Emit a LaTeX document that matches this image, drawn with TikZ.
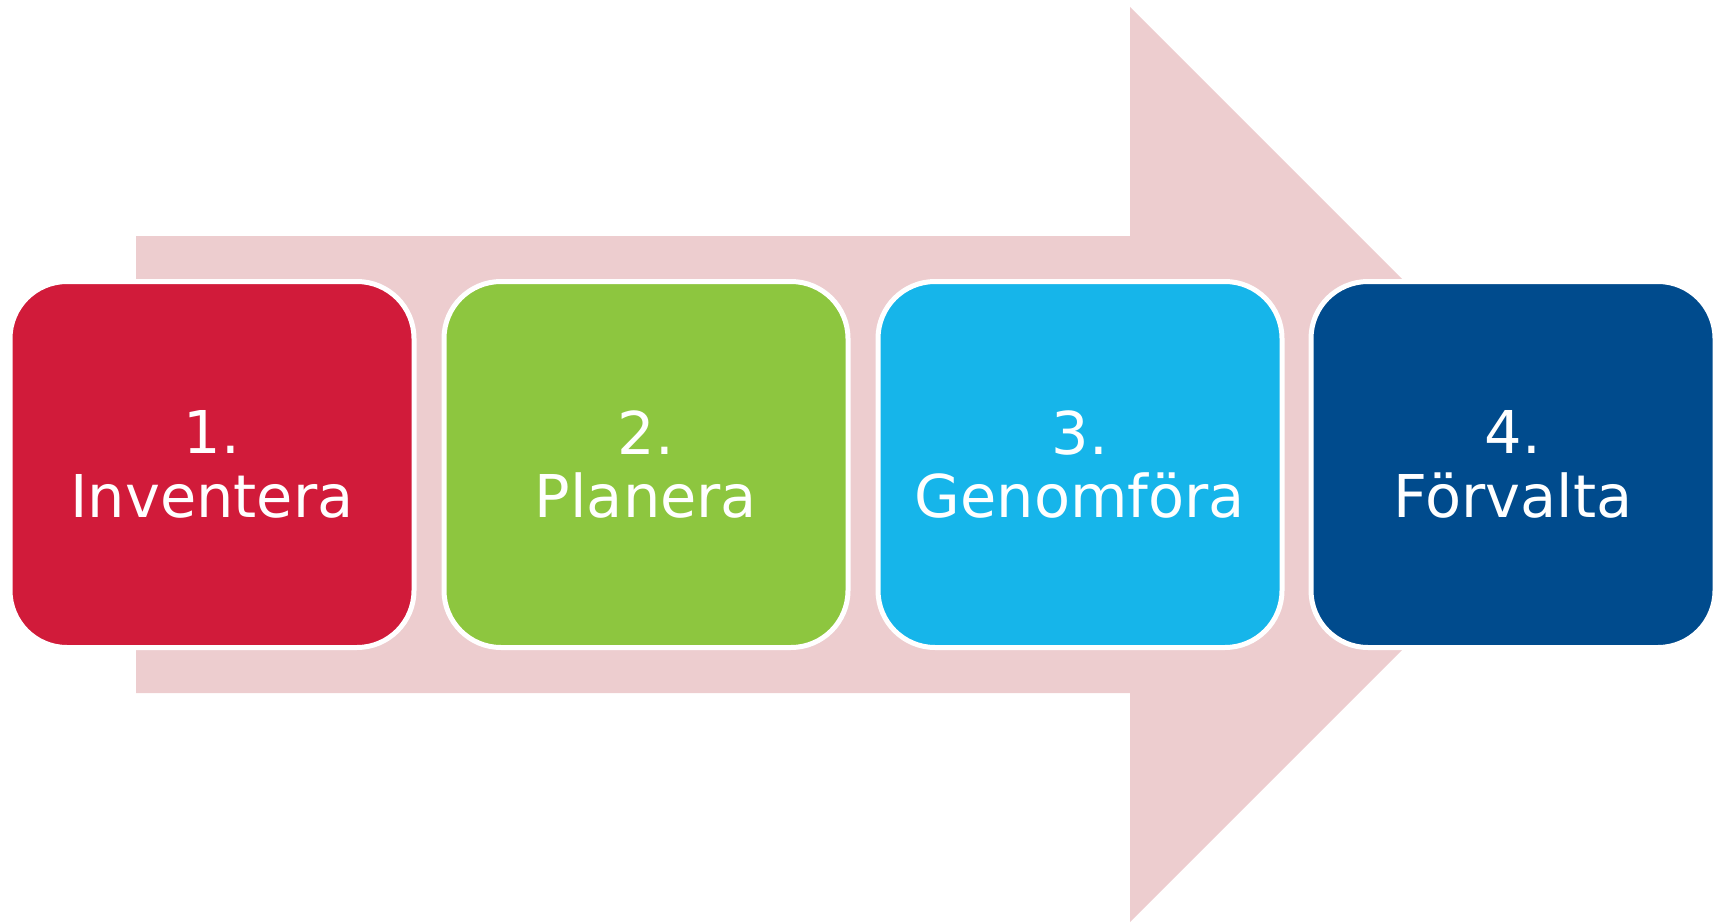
\documentclass[tikz,border=0pt]{standalone}
\usepackage{fontspec}
\newfontfamily\stepfont{DejaVu Sans}
\definecolor{arrowpink}{RGB}{237,205,207}
\definecolor{stepred}{RGB}{209,27,58}
\definecolor{stepgreen}{RGB}{141,198,63}
\definecolor{stepcyan}{RGB}{22,181,234}
\definecolor{stepblue}{RGB}{0,75,141}
\tikzset{
  stepbox/.style={rectangle, rounded corners=57pt, draw=white, line width=5pt,
    minimum width=404pt, minimum height=366pt, inner sep=0pt,
    text=white, align=center, font=\stepfont\fontsize{59}{63.5}\selectfont},
  bigarrow/.style={fill=arrowpink, draw=none}
}
\begin{document}
\begin{tikzpicture}[x=1pt,y=-1pt]
\useasboundingbox (0,0) rectangle (1723,923);
% big arrow
\fill[bigarrow] (136,236) -- (1130,236) -- (1130,7) -- (1587.5,464.5) -- (1130,922) -- (1130,693) -- (136,693) -- cycle;
% steps
\node[stepbox, fill=stepred]   (s1) at (212,464.5)  {1.\\Inventera};
\node[stepbox, fill=stepgreen] (s2) at (646,464.5)  {2.\\Planera};
\node[stepbox, fill=stepcyan]  (s3) at (1080,464.5) {3.\\Genomföra};
\node[stepbox, fill=stepblue]  (s4) at (1513,464.5) {4.\\Förvalta};
\end{tikzpicture}
\end{document}
